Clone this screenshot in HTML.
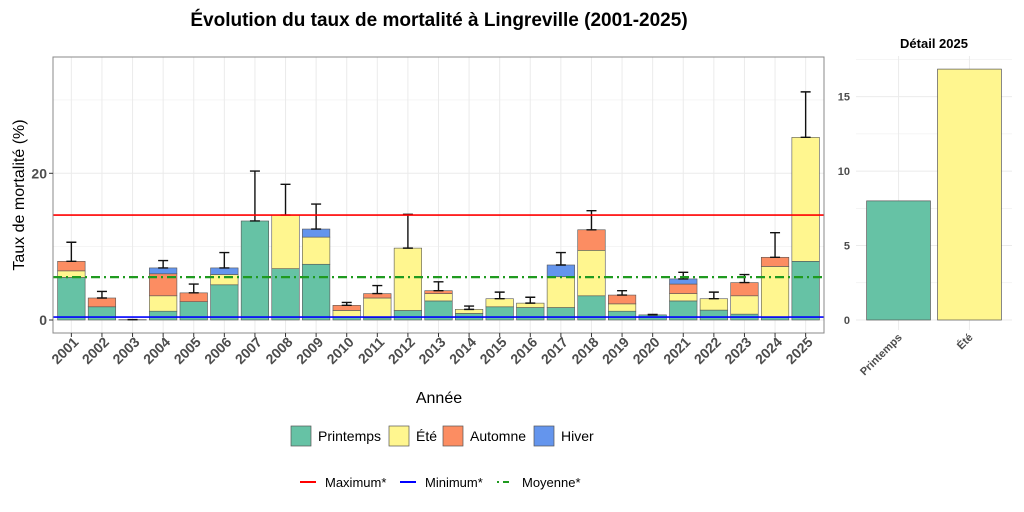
<!DOCTYPE html>
<html><head><meta charset="utf-8"><style>
body{margin:0;background:#fff;}
svg{display:block;font-family:"Liberation Sans",sans-serif;}
</style></head><body>
<svg id="c" width="1024" height="512"></svg>
<script>
const years=["2001","2002","2003","2004","2005","2006","2007","2008","2009","2010","2011","2012","2013","2014","2015","2016","2017","2018","2019","2020","2021","2022","2023","2024","2025"];
const printemps=[5.8,1.8,0.05,1.2,2.5,4.8,13.5,7.0,7.6,0.45,0.3,1.3,2.6,0.9,1.8,1.7,1.7,3.3,1.2,0.7,2.6,1.35,0.8,0.35,8.0];
const ete=[0.9,0,0,2.1,0,1.4,0,7.3,3.7,0.85,2.7,8.5,1.0,0.55,1.1,0.6,4.2,6.2,1.0,0,1.0,1.55,2.5,6.95,16.9];
const automne=[1.3,1.2,0,3.0,1.2,0,0,0,0,0.7,0.6,0,0.4,0,0,0,0,2.8,1.2,0,1.3,0,1.8,1.25,0];
const hiver=[0,0,0,0.8,0,0.9,0,0,1.1,0,0,0,0,0,0,0,1.6,0,0,0,0.7,0,0,0,0];
const errTop=[10.6,3.9,0.05,8.1,4.9,9.2,20.3,18.5,15.8,2.4,4.7,14.4,5.2,1.9,3.8,3.1,9.2,14.9,4.0,0.75,6.5,3.8,6.2,11.9,31.1];
const refMax=14.3, refMin=0.4, refMean=5.85;
const yTicks=[0,20];
const detailCats=["Printemps","Été"];
const detailVals=[8.0,16.85];
const detailTicks=[0,5,10,15];

const NS="http://www.w3.org/2000/svg";
const svg=document.getElementById('c');
function mk(tag,attrs,parent,text){const e=document.createElementNS(NS,tag);for(const k in attrs)e.setAttribute(k,attrs[k]);if(text!==undefined)e.textContent=text;(parent||svg).appendChild(e);return e;}
const colors=["#66c2a5","#fff68f","#fc8d62","#6495ed"];
const seasonNames=["printemps","ete","automne","hiver"];
const L=53,R=824,T=57,B=333;
const step=(R-L)/(years.length+0.2);
const xC=i=>L+step*(0.6+i);
const yS=v=>320-v*7.335;
let g=mk('g',{});


for(let v=0;v<=35;v+=10){const y=yS(v);if(y<T)continue;const ln=mk('line',{x1:L,x2:R,y1:y,y2:y,stroke:'#ebebeb','stroke-width':v%20==0?1:0.5},g);}
years.forEach((yr,i)=>{const ln=mk('line',{x1:xC(i),x2:xC(i),y1:T,y2:B,stroke:'#ebebeb','stroke-width':1},g);});
const bw=step*0.9;
years.forEach((yr,i)=>{
  let base=0;
  [printemps,ete,automne,hiver].forEach((arr,s)=>{
    const v=arr[i]; if(v<=0) return;
    const r=mk('rect',{x:xC(i)-bw/2,y:yS(base+v),width:bw,height:yS(base)-yS(base+v),fill:colors[s],stroke:'#555','stroke-width':0.6},g);
    
    
    base+=v;
  });
  const e=mk('path',{d:`M${xC(i)} ${yS(base)}V${yS(errTop[i])}M${xC(i)-5} ${yS(errTop[i])}H${xC(i)+5}M${xC(i)-5} ${yS(base)}H${xC(i)+5}`,stroke:'#111','stroke-width':1.4,fill:'none'},g);
  
  
});
let ln;
ln=mk('line',{x1:L,x2:R,y1:yS(refMax),y2:yS(refMax),stroke:'#ff0000','stroke-width':1.6},g);

ln=mk('line',{x1:L,x2:R,y1:yS(refMin),y2:yS(refMin),stroke:'#0000ff','stroke-width':1.6},g);

ln=mk('line',{x1:L,x2:R,y1:yS(refMean),y2:yS(refMean),stroke:'#1f9a1f','stroke-width':2.2,'stroke-dasharray':'9 4 2 4'},g);

const bd=mk('rect',{x:L,y:T,width:R-L,height:B-T,fill:'none',stroke:'#888','stroke-width':1},g);

yTicks.forEach(v=>{const y=yS(v);mk('line',{x1:L-4,x2:L,y1:y,y2:y,stroke:'#333'},g);
 const t=mk('text',{x:L-6,y:y+5,'text-anchor':'end','font-size':14,'font-weight':'bold',fill:'#4d4d4d'},g,v);
 });
years.forEach((yr,i)=>{mk('line',{x1:xC(i),x2:xC(i),y1:B,y2:B+4,stroke:'#333'},g);
 const t=mk('text',{x:xC(i)+8,y:B+10,'text-anchor':'end','font-size':14,'font-weight':'bold',fill:'#4d4d4d',transform:`rotate(-45 ${xC(i)+8} ${B+10})`},g,yr);
 });
const dg=mk('g',{});


const dL=856,dR=1012,dB=320;
const dy=v=>dB-v*14.89;
for(let v=0;v<=17.5;v+=2.5){const l=mk('line',{x1:dL,x2:dR,y1:dy(v),y2:dy(v),stroke:'#ebebeb','stroke-width':v%5==0?1:0.5},dg);}
const dstep=(dR-dL)/2.2;
const dx=i=>dL+dstep*(0.6+i);
detailCats.forEach((c,i)=>{mk('line',{x1:dx(i),x2:dx(i),y1:56,y2:dB+10,stroke:'#ebebeb'},dg);});
detailCats.forEach((c,i)=>{
 const w=dstep*0.9;
 const r=mk('rect',{x:dx(i)-w/2,y:dy(detailVals[i]),width:w,height:dB-dy(detailVals[i]),fill:colors[i],stroke:'#555','stroke-width':0.7},dg);
 
 
 const t=mk('text',{x:dx(i)+4,y:dB+18,'text-anchor':'end','font-size':11,'font-weight':'bold',fill:'#4d4d4d',transform:`rotate(-45 ${dx(i)+4} ${dB+18})`},dg,c);
 
});
detailTicks.forEach(v=>{const t=mk('text',{x:850,y:dy(v)+4,'text-anchor':'end','font-size':11,'font-weight':'bold',fill:'#4d4d4d'},dg,v);});
const dt=mk('text',{x:934,y:48,'text-anchor':'middle','font-size':13,'font-weight':'bold',fill:'#000'},dg,'Détail 2025');

let t=mk('text',{x:439,y:26,'text-anchor':'middle','font-size':19,'font-weight':'bold'},svg,'Évolution du taux de mortalité à Lingreville (2001-2025)');

t=mk('text',{x:439,y:403,'text-anchor':'middle','font-size':16,fill:'#000'},svg,'Année');

t=mk('text',{x:24,y:195,'text-anchor':'middle','font-size':16,transform:'rotate(-90 24 195)'},svg,'Taux de mortalité (%)');

const lg=[["Printemps",291],["Été",389],["Automne",443],["Hiver",534]];
lg.forEach((d,i)=>{const r=mk('rect',{x:d[1],y:426,width:20,height:20,fill:colors[i],stroke:'#555','stroke-width':0.7});
 
 const tt=mk('text',{x:d[1]+27,y:441,'font-size':14},svg,d[0]);
 });
const ll=[["Maximum*",300,'#ff0000',''],["Minimum*",400,'#0000ff',''],["Moyenne*",497,'#1f9a1f','2 4 6 4']];
ll.forEach(d=>{const l=mk('line',{x1:d[1],x2:d[1]+16,y1:482,y2:482,stroke:d[2],'stroke-width':2,'stroke-dasharray':d[3]});
 
 const tt=mk('text',{x:d[1]+25,y:487,'font-size':13},svg,d[0]);
 });
</script>
</body></html>
